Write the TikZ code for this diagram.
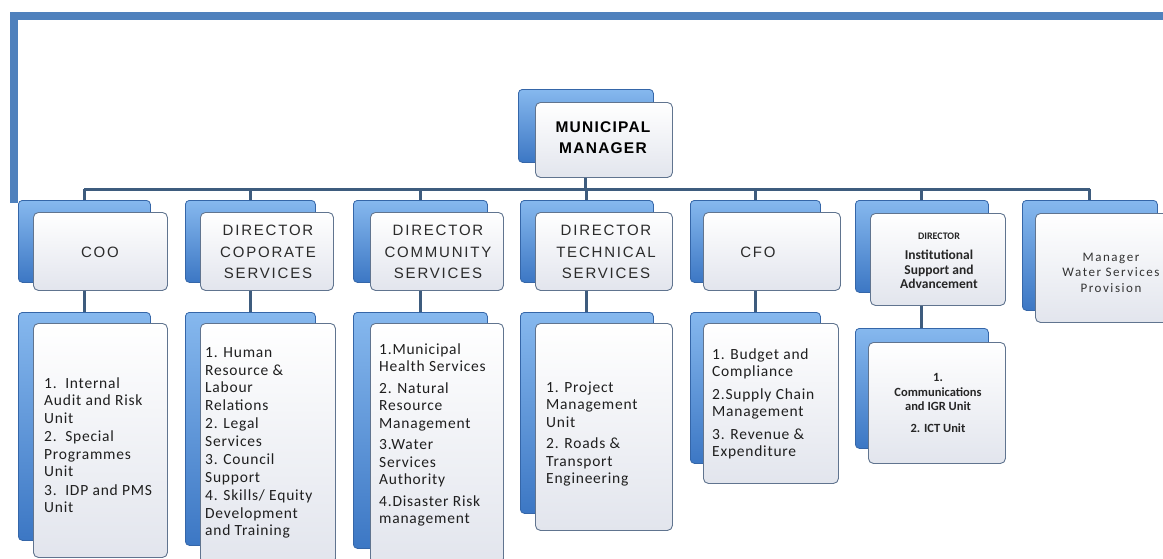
\documentclass[tikz,border=0pt]{standalone}
\usepackage{fontspec}
\setmainfont{Carlito}
\newfontfamily\hdrfont{Liberation Sans}[LetterSpace=12]
\newfontfamily\mgrfont{Liberation Sans}[LetterSpace=8]
\newfontfamily\listfont{Carlito}[LetterSpace=5]
\newfontfamily\smallfont{Carlito}[LetterSpace=12]
\definecolor{frameblue}{HTML}{4F81BD}
\definecolor{boxblueT}{HTML}{86B8EE}
\definecolor{boxblueB}{HTML}{3C77C4}
\definecolor{boxedge}{HTML}{3566A8}
\definecolor{conncol}{HTML}{3E5C7E}
\definecolor{frontedge}{HTML}{60748F}
\definecolor{frontB}{HTML}{E2E5ED}
\definecolor{txtgray}{HTML}{2B2B2B}
\newcommand\twobox[9]{%
  \node[backbox, minimum width=#4pt, minimum height=#5pt] (#1b) at (#2,#3) {};
  \node[frontbox, minimum width=#8pt, minimum height=#9pt] (#1) at (#6,#7) {};
}
\begin{document}
\begin{tikzpicture}[x=1pt,y=-1pt,
  backbox/.style={draw=boxedge, line width=0.8pt, rounded corners=4pt,
    top color=boxblueT, bottom color=boxblueB, anchor=north west, inner sep=0pt},
  frontbox/.style={draw=frontedge, line width=0.9pt, rounded corners=5pt,
    top color=white, bottom color=frontB, anchor=north west, inner sep=0pt},
  conn/.style={draw=conncol, line width=3pt},
  hdr/.style={align=center, inner sep=0pt, text=txtgray,
    font=\hdrfont\fontsize{15}{21.5}\selectfont},
  listtxt/.style={anchor=west, align=left, inner sep=0pt, text=black!88,
    font=\listfont\fontsize{15.5}{17.5}\selectfont},
  smalltxt/.style={align=center, inner sep=0pt, text=black!85}]
\useasboundingbox (0,0) rectangle (1163,558);
% frame
\fill[frameblue] (10,12) rectangle (1163,20);
\fill[frameblue] (10,12) rectangle (18,203);
\coordinate (bus) at (0,189);
% top
\twobox{mm}{518}{89}{135}{73}{535}{102}{137}{75}
\node[align=center, inner sep=0pt, text=black, font=\mgrfont\bfseries\fontsize{15.5}{21}\selectfont] (mmt) at (603,137.5) {MUNICIPAL\\MANAGER};
% level 1
\twobox{coo}{18}{200}{132}{82}{33}{212}{134}{78}
\twobox{corp}{185}{200}{130}{82}{200}{212}{133}{78}
\twobox{comm}{353}{200}{134}{82}{370}{212}{133}{78}
\twobox{tech}{520}{200}{133}{82}{535}{212}{137}{78}
\twobox{cfo}{690}{200}{130}{82}{703}{212}{137}{78}
\twobox{isa}{855}{200}{133}{92}{870}{213}{135}{92}
\twobox{water}{1022}{200}{135}{110}{1035}{213}{135}{109}
\node[hdr] (coot) at (100,252) {COO};
\node[hdr] (corpt) at (268,252) {DIRECTOR\\COPORATE\\SERVICES};
\node[hdr] (commt) at (438,252) {DIRECTOR\\COMMUNITY\\SERVICES};
\node[hdr] (techt) at (606,252) {DIRECTOR\\TECHNICAL\\SERVICES};
\node[hdr] (cfot) at (758,252) {CFO};
\node[smalltxt, font=\fontsize{13.5}{14.5}\selectfont\bfseries] (isat) at (939,261)
  {{\fontsize{10}{12}\selectfont DIRECTOR}\\[6pt]Institutional\\Support and\\Advancement};
\node[smalltxt, text=black!80, font=\smallfont\fontsize{13}{15.5}\selectfont] (watert) at (1111,272.5)
  {Manager\\Water Services\\Provision};
% level 2
\twobox{coos}{18}{312}{132}{228}{33}{323}{134}{234}
\twobox{corps}{185}{312}{130}{233}{200}{323}{135}{240}
\twobox{comms}{353}{312}{134}{236}{370}{323}{133}{240}
\twobox{techs}{520}{312}{133}{201}{535}{323}{137}{207}
\twobox{cfos}{690}{312}{130}{151}{703}{323}{135}{160}
\twobox{isas}{855}{328}{133}{120}{868}{342}{137}{121}
\node[listtxt] (coost) at (44,445)
  {1.\ \ Internal\\Audit and Risk\\Unit\\[1pt]2.\ \ Special\\Programmes\\Unit\\[1pt]3.\ \ IDP and PMS\\Unit};
\node[listtxt] (corpst) at (205,443)
  {1. Human\\Resource \&\\Labour\\Relations\\[1pt]2. Legal\\Services\\[1pt]3. Council\\Support\\[1pt]4. Skills/ Equity\\Development\\and Training};
\node[listtxt] (commst) at (379,435)
  {1.Municipal\\Health Services\\[4pt]2. Natural\\Resource\\Management\\[4pt]3.Water\\Services\\Authority\\[4pt]4.Disaster Risk\\management};
\node[listtxt] (techst) at (546,434)
  {1. Project\\Management\\Unit\\[4pt]2. Roads \&\\Transport\\Engineering};
\node[listtxt] (cfost) at (712,404)
  {1. Budget and\\Compliance\\[5pt]2.Supply Chain\\Management\\[5pt]3. Revenue \&\\Expenditure};
\node[smalltxt, font=\fontsize{12.5}{14.5}\selectfont\bfseries] (isast) at (938,403)
  {1.\\Communications\\and IGR Unit\\[7pt]2. ICT Unit};
% connectors
\draw[conn] (mmb.center |- mm.south) -- (mmb.center |- bus);
\draw[conn] (coob.north |- bus) -- (waterb.north |- bus);
\foreach \n in {coo,corp,comm,tech,cfo,isa,water}
  \draw[conn] (\n b.north |- bus) -- (\n b.north);
\foreach \n in {coo,corp,comm,tech,cfo,isa}
  \draw[conn] (\n b.center |- \n.south) -- (\n b.center |- \n sb.north);
\end{tikzpicture}
\end{document}
